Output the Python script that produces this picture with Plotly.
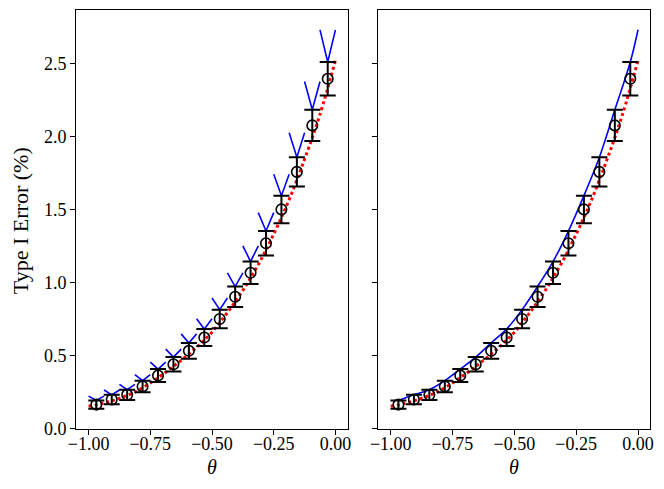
import plotly.graph_objects as go

# bin centres in theta
theta = [-0.96875, -0.90625, -0.84375, -0.78125, -0.71875, -0.65625, -0.59375, -0.53125,
         -0.46875, -0.40625, -0.34375, -0.28125, -0.21875, -0.15625, -0.09375, -0.03125]

# simulated type I error (%) and error bar half widths
rate = [0.164, 0.199, 0.231, 0.288, 0.363, 0.440, 0.532, 0.623,
        0.750, 0.902, 1.066, 1.268, 1.500, 1.757, 2.075, 2.394]
err = [0.028, 0.032, 0.035, 0.040, 0.044, 0.049, 0.054, 0.058,
       0.064, 0.070, 0.077, 0.084, 0.094, 0.100, 0.107, 0.115]

# upper bound at the bin centres, and how much it rises to the bin edges (left panel)
upper = [0.192, 0.231, 0.266, 0.328, 0.407, 0.489, 0.586, 0.681,
         0.814, 0.972, 1.143, 1.352, 1.594, 1.857, 2.182, 2.509]
rise = [0.030, 0.033, 0.036, 0.041, 0.048, 0.055, 0.062, 0.070,
        0.080, 0.093, 0.108, 0.126, 0.147, 0.168, 0.194, 0.220]
upper_end = 2.73  # bound at theta = 0 (right panel)

# theoretical curve (red dotted)
theta_ref = [-1.0, -0.9375, -0.875, -0.8125, -0.75, -0.6875, -0.625, -0.5625, -0.5,
             -0.4375, -0.375, -0.3125, -0.25, -0.1875, -0.125, -0.0625, 0.0]
rate_ref = [0.152, 0.174, 0.207, 0.249, 0.312, 0.386, 0.467, 0.556, 0.660,
            0.794, 0.946, 1.122, 1.331, 1.567, 1.843, 2.151, 2.52]

half_bin = 0.03125
FONT = "Liberation Serif"
W, H = 664, 489


def px(x):
    return x / W


def py(y):
    return 1 - y / H


# V shapes for the left panel
vx, vy = [], []
for t, u, r in zip(theta, upper, rise):
    vx += [t - half_bin, t, t + half_bin, None]
    vy += [u + r, u, u + r, None]

fig = go.Figure()

for i, ax in enumerate(["", "2"]):
    xa, ya = "x" + ax, "y" + ax
    if i == 0:
        fig.add_trace(go.Scatter(x=vx, y=vy, mode="lines", xaxis=xa, yaxis=ya,
                                 line=dict(color="#0000ff", width=1.6), showlegend=False))
    else:
        fig.add_trace(go.Scatter(x=theta + [0.0], y=upper + [upper_end], mode="lines",
                                 xaxis=xa, yaxis=ya, line_shape="spline",
                                 line=dict(color="#0000ff", width=1.6), showlegend=False))
    fig.add_trace(go.Scatter(x=theta_ref, y=rate_ref, mode="lines", xaxis=xa, yaxis=ya,
                             line_shape="spline",
                             line=dict(color="#ff0000", width=3, dash="dot"), showlegend=False))
    fig.add_trace(go.Scatter(x=theta, y=rate, mode="markers", xaxis=xa, yaxis=ya,
                             marker=dict(symbol="circle-open", size=10.5, color="black",
                                         line=dict(width=1.6, color="black")),
                             error_y=dict(type="data", array=err, color="black",
                                          thickness=2, width=8),
                             showlegend=False))

xtv = [-1.0, -0.75, -0.5, -0.25, 0.0]
xtt = ["\u22121.00", "\u22120.75", "\u22120.50", "\u22120.25", "0.00"]
ytv = [0.0, 0.5, 1.0, 1.5, 2.0, 2.5]
ytt = ["0.0", "0.5", "1.0", "1.5", "2.0", "2.5"]

common = dict(showline=True, linecolor="black", linewidth=1.2, mirror=True,
              ticks="outside", ticklen=5, tickwidth=1, tickcolor="black",
              showgrid=False, zeroline=False,
              tickfont=dict(family=FONT, size=18, color="black"))

y_dom = [py(437.5), py(10.5)]
fig.update_layout(
    width=W, height=H,
    margin=dict(l=0, r=0, t=0, b=0),
    plot_bgcolor="white", paper_bgcolor="white",
    xaxis=dict(domain=[px(69.4), px(345.5)], range=[-1.05, 0.05], ticklabelstandoff=-6,
               tickvals=xtv, ticktext=xtt, anchor="y", **common),
    yaxis=dict(domain=y_dom, range=[0, 2.863], tickvals=ytv, ticktext=ytt,
               anchor="x", **common),
    xaxis2=dict(domain=[px(376.6), px(653.2)], range=[-1.05, 0.05], ticklabelstandoff=-6,
                tickvals=xtv, ticktext=xtt, anchor="y2", **common),
    yaxis2=dict(domain=y_dom, range=[0, 2.863], tickvals=ytv, showticklabels=False,
                anchor="x2", matches="y", **common),
)

for xc in [207.5, 515]:
    fig.add_annotation(text="<i>θ</i>", xref="paper", yref="paper", x=px(xc), y=py(477),
                       xanchor="center", yanchor="middle", showarrow=False,
                       font=dict(family=FONT, size=20, color="black"))
fig.add_annotation(text="Type I Error (%)", xref="paper", yref="paper",
                   x=px(13), y=py(225), xanchor="center", yanchor="middle",
                   textangle=-90, showarrow=False,
                   font=dict(family=FONT, size=22, color="black"))

# drop the default page margin so the figure sits at the window's corner
fig.write_html("out.html", config={"displayModeBar": False},
               post_script="document.body.style.margin='0';"
               "document.documentElement.style.overflow='hidden';")
